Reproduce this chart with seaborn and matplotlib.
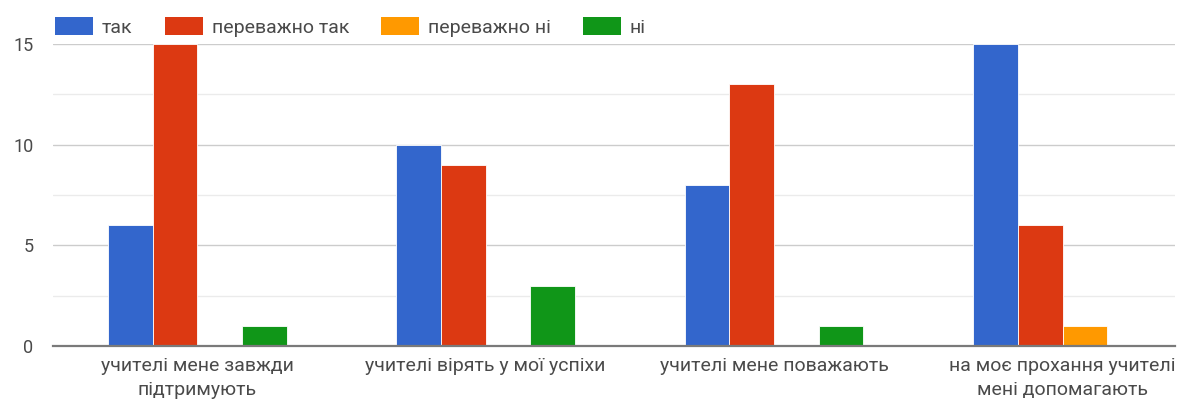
import matplotlib
matplotlib.use("Agg")
import matplotlib.pyplot as plt
import seaborn as sns
import pandas as pd
from matplotlib.ticker import MultipleLocator
from matplotlib.patches import Patch

categories = [
    "учителі мене завжди\nпідтримують",
    "учителі вірять у мої успіхи",
    "учителі мене поважають",
    "на моє прохання учителі\nмені допомагають",
]
series = ["так", "переважно так", "переважно ні", "ні"]
val_tak = [6, 10, 8, 15]
val_perevazhno_tak = [15, 9, 13, 6]
val_perevazhno_ni = [0, 0, 0, 1]
val_ni = [1, 3, 1, 0]
colors = ["#3366cc", "#dc3912", "#ff9900", "#109618"]
yticks = [0, 5, 10, 15]

rows = []
for s, vals in zip(series, [val_tak, val_perevazhno_tak, val_perevazhno_ni, val_ni]):
    for c, v in zip(categories, vals):
        rows.append({"cat": c, "series": s, "val": v})
df = pd.DataFrame(rows)

sns.set_theme(style="white")
plt.rcParams["font.family"] = ["Roboto", "DejaVu Sans"]

W, H = 1178, 412
fig = plt.figure(figsize=(W / 100, H / 100), dpi=100)
ax = fig.add_axes([53 / W, 66 / H, (1175 - 53) / W, (346 - 44) / H])

sns.barplot(data=df, x="cat", y="val", hue="series", hue_order=series,
            order=categories, palette=colors, saturation=1, width=0.62,
            gap=0, edgecolor="white", linewidth=0.6, ax=ax, legend=False)

ax.set_ylim(0, 15)
ax.set_xlim(-0.5, 3.39)
ax.set_yticks(yticks)
ax.yaxis.set_minor_locator(MultipleLocator(2.5))
ax.grid(False)
ax.yaxis.grid(True, which="major", color="#cccccc", lw=1)
ax.yaxis.grid(True, which="minor", color="#ebebeb", lw=1)
ax.set_axisbelow(True)
for s in ["left", "right", "top"]:
    ax.spines[s].set_visible(False)
ax.spines["bottom"].set_color("#7a7a7a")
ax.spines["bottom"].set_linewidth(1.6)
ax.spines["bottom"].set_zorder(5)
ax.set_xlabel("")
ax.set_ylabel("")
ax.tick_params(axis="y", which="both", length=0, pad=14, labelsize=13, labelcolor="#4a4a4a")
ax.tick_params(axis="x", length=0, pad=8, labelsize=14, labelcolor="#4a4a4a")
for lbl in ax.get_xticklabels():
    lbl.set_linespacing(1.45)

handles = [Patch(facecolor=c, edgecolor="none") for c in colors]
fs = 14
fpx = fs * 100 / 72
fig.legend(handles, series, loc="center left",
           bbox_to_anchor=(55 / W, 1 - 27 / H), bbox_transform=fig.transFigure,
           ncol=4, frameon=False, fontsize=fs, labelcolor="#4a4a4a",
           borderpad=0, borderaxespad=0,
           handlelength=38 / fpx, handleheight=19 / fpx,
           handletextpad=9 / fpx, columnspacing=32 / fpx)

fig.savefig("out.png", dpi=100)
